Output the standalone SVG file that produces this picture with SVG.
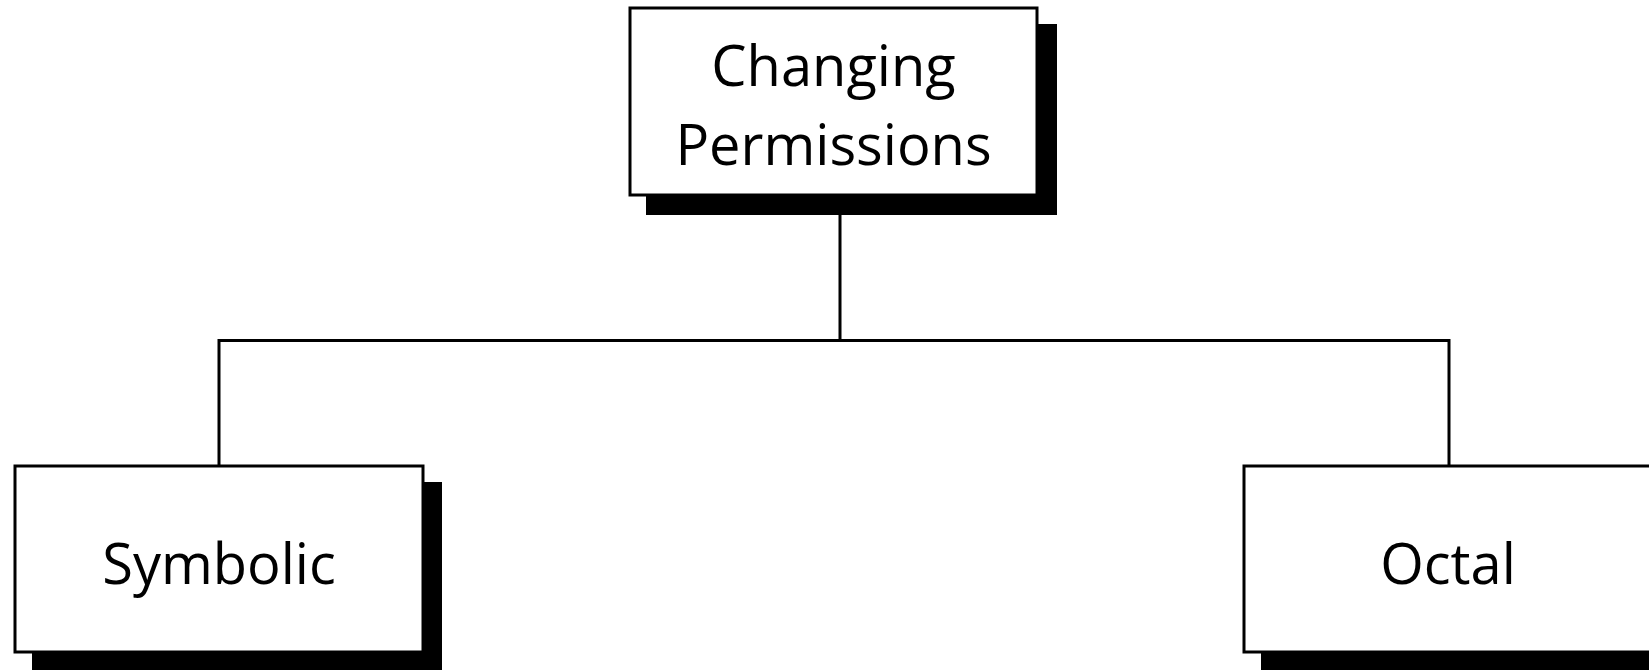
<svg xmlns="http://www.w3.org/2000/svg" width="1649" height="670" viewBox="0 0 1649 670">
<style>
.shadow{fill:#000}
.box{fill:#fff;stroke:#000;stroke-width:3}
.lbl{font-family:"Open Sans","Noto Sans",sans-serif;font-size:56px;fill:#000;text-anchor:middle}
.conn{fill:none;stroke:#000;stroke-width:3}
</style>
<rect width="1649" height="670" fill="#fff"/>
<g id="connectors">
<path class="conn" d="M840 196 V340.5 M219 466 V340.5 H1449 V466"/>
</g>
<g id="node-changing">
<rect class="shadow" x="646" y="24" width="411" height="191"/>
<rect class="box" x="630" y="8" width="407" height="187"/>
<text class="lbl" x="833.5" y="86">Changing</text>
<text class="lbl" x="833.5" y="165">Permissions</text>
</g>
<g id="node-symbolic">
<rect class="shadow" x="32" y="482" width="410" height="200"/>
<rect class="box" x="15" y="466" width="408" height="186"/>
<text class="lbl" x="219" y="584">Symbolic</text>
</g>
<g id="node-octal">
<rect class="shadow" x="1261" y="482" width="410" height="200"/>
<rect class="box" x="1244" y="466" width="408" height="186"/>
<text class="lbl" x="1448" y="584">Octal</text>
</g>
</svg>
